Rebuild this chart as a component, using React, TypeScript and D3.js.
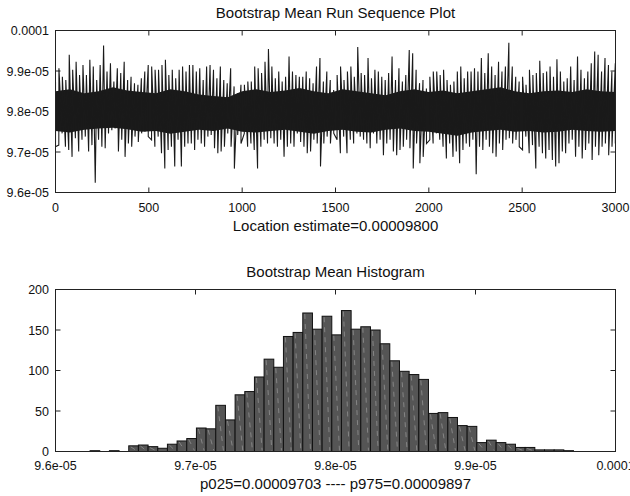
import React from 'react';
import * as d3 from 'd3';

// ---------- Data (values in units of 1e-5) ----------
const runN = 3000;
// upper spike tips of the run sequence, left to right
const runHigh = [
  9.874, 9.907, 9.886, 9.878, 9.940, 9.903, 9.923, 9.890, 9.915, 9.890,
  9.928, 9.911, 9.878, 9.915, 9.963, 9.899, 9.919, 9.874, 9.907, 9.895,
  9.923, 9.878, 9.886, 9.870, 9.866, 9.882, 9.899, 9.915, 9.911, 9.903,
  9.903, 9.915, 9.928, 9.890, 9.903, 9.882, 9.903, 9.911, 9.899, 9.915,
  9.915, 9.899, 9.907, 9.878, 9.911, 9.915, 9.903, 9.882, 9.911, 9.878,
  9.870, 9.907, 9.862, 9.845, 9.866, 9.866, 9.874, 9.874, 9.911, 9.907,
  9.895, 9.923, 9.954, 9.911, 9.882, 9.899, 9.874, 9.886, 9.936, 9.899,
  9.890, 9.886,
  9.886, 9.899, 9.882, 9.870, 9.911, 9.932, 9.874, 9.899, 9.878, 9.853,
  9.890, 9.911, 9.878, 9.899, 9.911, 9.886, 9.959, 9.895, 9.890, 9.932,
  9.882, 9.903, 9.899, 9.886, 9.878, 9.895, 9.936, 9.878, 9.907, 9.874,
  9.890, 9.952, 9.944, 9.903, 9.870, 9.878, 9.857, 9.886, 9.899, 9.899,
  9.890, 9.903, 9.878, 9.866, 9.874, 9.899, 9.911, 9.882, 9.899, 9.899,
  9.907, 9.899, 9.932, 9.895, 9.944, 9.911, 9.890, 9.923, 9.899, 9.911,
  9.970, 9.911, 9.886, 9.874, 9.886, 9.866, 9.903, 9.890, 9.895, 9.925,
  9.895, 9.899, 9.911, 9.886, 9.929, 9.899, 9.874, 9.882, 9.911, 9.878,
  9.936, 9.903, 9.882, 9.899, 9.919, 9.948, 9.940, 9.899, 9.932, 9.915,
  9.899, 9.919,
];
// lower spike tips of the run sequence, left to right
const runLow = [
  9.713, 9.717, 9.746, 9.713, 9.705, 9.688, 9.734, 9.701, 9.730, 9.738,
  9.701, 9.717, 9.624, 9.730, 9.713, 9.709, 9.746, 9.754, 9.758, 9.701,
  9.730, 9.688, 9.721, 9.713, 9.738, 9.725, 9.746, 9.750, 9.738, 9.730,
  9.713, 9.738, 9.697, 9.659, 9.705, 9.713, 9.664, 9.730, 9.664, 9.713,
  9.721, 9.721, 9.705, 9.730, 9.721, 9.713, 9.738, 9.742, 9.709, 9.697,
  9.701, 9.713, 9.746, 9.713, 9.659, 9.742, 9.721, 9.746, 9.713, 9.721,
  9.705, 9.659, 9.713, 9.730, 9.721, 9.734, 9.721, 9.713, 9.730, 9.688,
  9.713, 9.721, 9.713, 9.746, 9.725, 9.713, 9.697, 9.701,
  9.730, 9.721, 9.664, 9.721, 9.738, 9.721, 9.746, 9.730, 9.697, 9.738,
  9.697, 9.730, 9.721, 9.746, 9.738, 9.730, 9.721, 9.709, 9.746, 9.721,
  9.730, 9.692, 9.721, 9.730, 9.701, 9.692, 9.705, 9.713, 9.730, 9.709,
  9.659, 9.721, 9.672, 9.688, 9.721, 9.730, 9.721, 9.746, 9.730, 9.713,
  9.684, 9.721, 9.688, 9.701, 9.672, 9.705, 9.721, 9.713, 9.730, 9.645,
  9.713, 9.705, 9.730, 9.713, 9.697, 9.688, 9.721, 9.705, 9.730, 9.734,
  9.721, 9.730, 9.713, 9.705, 9.738, 9.697, 9.717, 9.659, 9.713, 9.697,
  9.684, 9.705, 9.680, 9.664, 9.672, 9.701, 9.697, 9.721, 9.730, 9.688,
  9.713, 9.684, 9.705, 9.721, 9.680, 9.713, 9.692, 9.713, 9.721, 9.692,
  9.713, 9.721,
];
// edges of the solid (overplotted) core of the run sequence, left to right
const runCoreHigh = [
  9.850, 9.855, 9.845, 9.850, 9.860, 9.852, 9.848, 9.845, 9.855, 9.850,
  9.842, 9.838, 9.835, 9.850, 9.855, 9.848, 9.852, 9.858, 9.850, 9.845,
  9.855, 9.850, 9.845, 9.840, 9.850, 9.855, 9.848, 9.852, 9.845, 9.850,
  9.855, 9.860, 9.850, 9.845, 9.850, 9.852, 9.848, 9.855, 9.850, 9.848,
];
const runCoreLow = [
  9.752, 9.748, 9.755, 9.758, 9.760, 9.756, 9.750, 9.752, 9.745, 9.750,
  9.755, 9.752, 9.758, 9.750, 9.748, 9.752, 9.755, 9.750, 9.745, 9.752,
  9.755, 9.750, 9.748, 9.755, 9.758, 9.752, 9.750, 9.745, 9.740, 9.748,
  9.752, 9.755, 9.750, 9.752, 9.748, 9.750, 9.755, 9.752, 9.750, 9.752,
];
const runXTicks = [0, 500, 1000, 1500, 2000, 2500, 3000];
const runYTicks = [9.6, 9.7, 9.8, 9.9, 10.0];
const runYTickLabels = ['9.6e-05', '9.7e-05', '9.8e-05', '9.9e-05', '0.0001'];

const histCounts = [
  1, 0, 1, 0, 7, 8, 6, 4, 9, 13,
  16, 29, 28, 57, 39, 70, 74, 92, 114, 104,
  142, 147, 171, 151, 167, 144, 174, 151, 154, 150,
  133, 112, 99, 95, 89, 47, 48, 42, 32, 31,
  11, 14, 11, 9, 5, 5, 2, 2, 2, 1,
];
const histBinMin = 9.6247;
const histBinMax = 9.97;
const histXTicks = [9.6, 9.7, 9.8, 9.9, 10.0];
const histXTickLabels = ['9.6e-05', '9.7e-05', '9.8e-05', '9.9e-05', '0.0001'];
const histYTicks = [0, 50, 100, 150, 200];

const runTitle = 'Bootstrap Mean Run Sequence Plot';
const runXLabel = 'Location estimate=0.00009800';
const histTitle = 'Bootstrap Mean Histogram';
const histXLabel = 'p025=0.00009703 ---- p975=0.00009897';

const FONT = '"Liberation Sans", Arial, Helvetica, sans-serif';

export default function App() {
  const W = 630;
  const H = 496;
  const L = 55.5;
  const R = 615.5;
  const rTop = 30.5;
  const rBot = 192.5;
  const hTop = 289.5;
  const hBot = 451.5;
  const tk = 5;

  const xRun = d3.scaleLinear().domain([0, runN]).range([L, R]);
  const yRun = d3.scaleLinear().domain([9.6, 10.0]).range([rBot, rTop]);

  type P = { t: number; v: number };
  const pts: P[] = [
    ...runHigh.map((v, i) => ({ t: (i / (runHigh.length - 1)) * (runN - 1), v })),
    ...runLow.map((v, i) => ({ t: (i / (runLow.length - 1)) * (runN - 1), v })),
  ].sort((a, b) => a.t - b.t);
  const runPath = d3
    .line<P>()
    .x((d) => xRun(d.t))
    .y((d) => yRun(d.v))(pts) as string;

  type C = { t: number; hi: number; lo: number };
  const core: C[] = runCoreHigh.map((hi, i) => ({
    t: (i / (runCoreHigh.length - 1)) * (runN - 1),
    hi,
    lo: runCoreLow[i],
  }));
  const corePath = d3
    .area<C>()
    .x((d) => xRun(d.t))
    .y0((d) => yRun(d.lo))
    .y1((d) => yRun(d.hi))(core) as string;

  const xH = d3.scaleLinear().domain([9.6, 10.0]).range([L, R]);
  const yH = d3.scaleLinear().domain([0, 200]).range([hBot, hTop]);
  const bw = (histBinMax - histBinMin) / histCounts.length;

  const tickStyle = { stroke: '#222', strokeWidth: 1 };
  const tickFont = { fontFamily: FONT, fontSize: 12.5, fill: '#111' };
  const labelFont = { fontFamily: FONT, fontSize: 15, fill: '#111' };

  return (
    <svg
      width={W}
      height={H}
      style={{ position: 'absolute', left: 0, top: 0, background: '#fff' }}
    >
      <rect x={0} y={0} width={W} height={H} fill="#fff" />
      {/* ---------- Run sequence panel ---------- */}
      <text x={335.5} y={18} textAnchor="middle" {...labelFont}>
        {runTitle}
      </text>
      <defs>
        <clipPath id="runClip">
          <rect x={L} y={rTop} width={R - L} height={rBot - rTop} />
        </clipPath>
      </defs>
      {runXTicks.map((t) => (
        <g key={'rx' + t}>
          <line x1={xRun(t)} x2={xRun(t)} y1={rBot} y2={rBot - tk} {...tickStyle} />
          <line x1={xRun(t)} x2={xRun(t)} y1={rTop} y2={rTop + tk} {...tickStyle} />
          <text x={xRun(t)} y={212} textAnchor="middle" {...tickFont}>
            {t}
          </text>
        </g>
      ))}
      {runYTicks.map((t, i) => (
        <g key={'ry' + t}>
          <line x1={L} x2={L + tk} y1={yRun(t)} y2={yRun(t)} {...tickStyle} />
          <line x1={R} x2={R - tk} y1={yRun(t)} y2={yRun(t)} {...tickStyle} />
          <text x={49} y={yRun(t) + 4.5} textAnchor="end" {...tickFont}>
            {runYTickLabels[i]}
          </text>
        </g>
      ))}
      <g clipPath="url(#runClip)">
        <path d={corePath} fill="#1a1a1a" stroke="none" />
        <path d={runPath} fill="none" stroke="#1a1a1a" strokeWidth={1.1} />
      </g>
      <rect x={L} y={rTop} width={R - L} height={rBot - rTop} fill="none" stroke="#222" strokeWidth={1} />
      <text x={335.5} y={231} textAnchor="middle" {...labelFont}>
        {runXLabel}
      </text>

      {/* ---------- Histogram panel ---------- */}
      <text x={335.5} y={276.5} textAnchor="middle" {...labelFont}>
        {histTitle}
      </text>
      {histYTicks.map((t) => (
        <g key={'hy' + t}>
          <line x1={L} x2={L + tk} y1={yH(t)} y2={yH(t)} {...tickStyle} />
          <line x1={R} x2={R - tk} y1={yH(t)} y2={yH(t)} {...tickStyle} />
          <text x={49} y={yH(t) + 4.5} textAnchor="end" {...tickFont}>
            {t}
          </text>
        </g>
      ))}
      {histXTicks.map((t, i) => (
        <g key={'hx' + t}>
          <line x1={xH(t)} x2={xH(t)} y1={hBot} y2={hBot - tk} {...tickStyle} />
          <line x1={xH(t)} x2={xH(t)} y1={hTop} y2={hTop + tk} {...tickStyle} />
          <text x={xH(t)} y={470} textAnchor="middle" {...tickFont}>
            {histXTickLabels[i]}
          </text>
        </g>
      ))}
      {histCounts.map((c, i) => {
        const x0 = xH(histBinMin + i * bw);
        const x1 = xH(histBinMin + (i + 1) * bw);
        const y0 = yH(c);
        if (c <= 0) return null;
        return (
          <g key={'b' + i}>
            <rect
              x={x0}
              y={y0}
              width={x1 - x0}
              height={hBot - y0}
              fill="#555555"
              stroke="#111"
              strokeWidth={1}
            />
            {hBot - y0 > 4 && (
              <line
                x1={x0 + 2}
                y1={y0 + 1}
                x2={x1 - 2}
                y2={hBot - 1}
                stroke="#9a9a9a"
                strokeWidth={0.7}
                strokeDasharray="5 5"
              />
            )}
          </g>
        );
      })}
      <rect x={L} y={hTop} width={R - L} height={hBot - hTop} fill="none" stroke="#222" strokeWidth={1} />
      <text x={335.5} y={489} textAnchor="middle" {...labelFont}>
        {histXLabel}
      </text>
    </svg>
  );
}
